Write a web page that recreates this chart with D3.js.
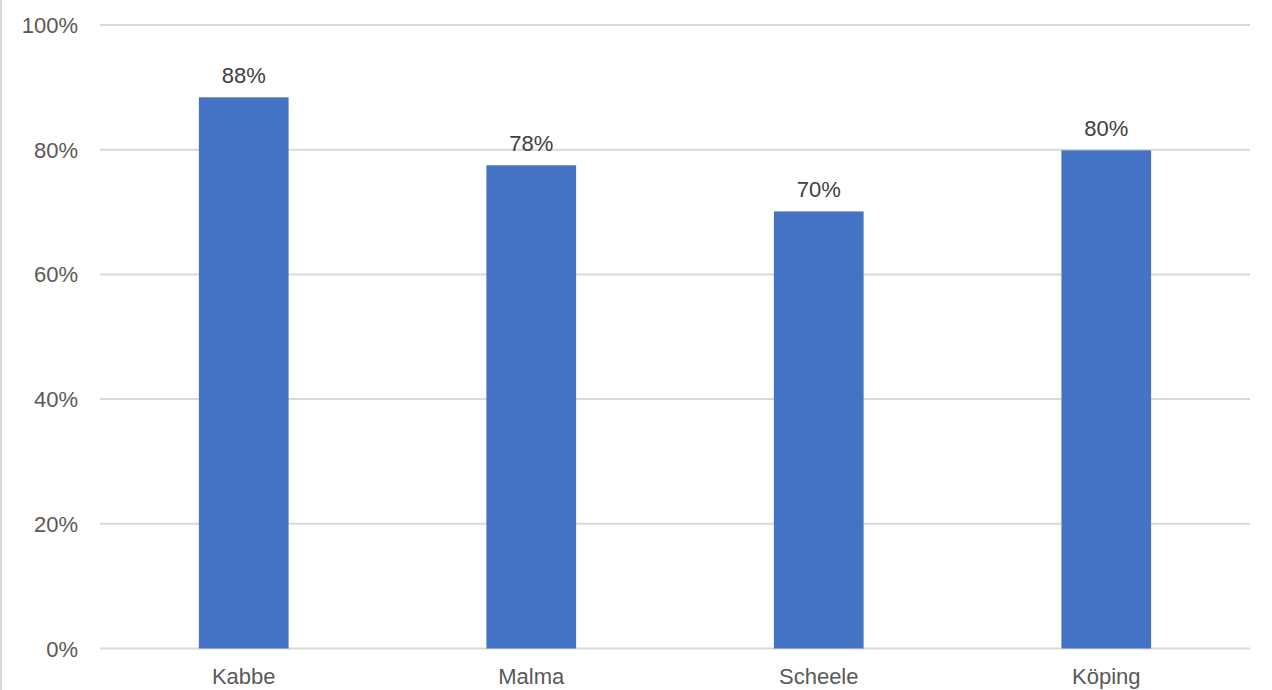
<!DOCTYPE html>
<html>
<head>
<meta charset="utf-8">
<script src="https://cdn.jsdelivr.net/npm/d3@7"></script>
<style>
  body { margin: 0; background: #fff; }
  svg { display: block; font-family: "Liberation Sans", Arial, sans-serif; }
</style>
</head>
<body>
<svg width="1272" height="690"></svg>
<script>
// data
const categories = ["Kabbe", "Malma", "Scheele", "Köping"];
const values = [0.884, 0.775, 0.701, 0.799];
const labels = ["88%", "78%", "70%", "80%"];
const ticks = [0, 0.2, 0.4, 0.6, 0.8, 1.0];

let svg = d3.select("svg"),
    width = 1272,
    height = 690;

let margin = { left: 100, right: 22, top: 25, bottom: 42 };

// left frame line
svg.append("line")
    .attr("x1", 1).attr("x2", 1)
    .attr("y1", 0).attr("y2", height)
    .attr("stroke", "#d9d9d9")
    .attr("stroke-width", 2);

let x = d3.scaleBand()
    .domain(categories)
    .range([margin.left, width - margin.right])
    .paddingInner(0.688)
    .paddingOuter(0.344);

let y = d3.scaleLinear()
    .domain([0, 1])
    .range([height - margin.bottom + 0.5, margin.top]);

// gridlines
svg.append("g")
    .selectAll("line")
    .data(ticks)
    .enter().append("line")
    .attr("x1", margin.left)
    .attr("x2", width - margin.right)
    .attr("y1", d => y(d))
    .attr("y2", d => y(d))
    .attr("stroke", "#d9d9d9")
    .attr("stroke-width", 2);

// y tick labels
svg.append("g")
    .selectAll("text")
    .data(ticks)
    .enter().append("text")
    .attr("x", 78)
    .attr("y", d => y(d) + 8)
    .attr("text-anchor", "end")
    .attr("fill", "#595959")
    .style("font-size", "22px")
    .text(d3.format(".0%"));

// bars
svg.append("g")
    .selectAll("rect")
    .data(values)
    .enter().append("rect")
    .attr("x", (d, i) => x(categories[i]))
    .attr("width", x.bandwidth())
    .attr("y", d => y(d))
    .attr("height", d => y(0) - y(d))
    .attr("fill", "#4472c4");

// value labels
svg.append("g")
    .selectAll("text")
    .data(values)
    .enter().append("text")
    .attr("x", (d, i) => x(categories[i]) + x.bandwidth() / 2)
    .attr("y", d => y(d) - 14)
    .attr("text-anchor", "middle")
    .attr("fill", "#404040")
    .style("font-size", "22px")
    .text((d, i) => labels[i]);

// category labels
svg.append("g")
    .selectAll("text")
    .data(categories)
    .enter().append("text")
    .attr("x", d => x(d) + x.bandwidth() / 2)
    .attr("y", 684)
    .attr("text-anchor", "middle")
    .attr("fill", "#595959")
    .style("font-size", "22px")
    .text(d => d);
</script>
</body>
</html>
